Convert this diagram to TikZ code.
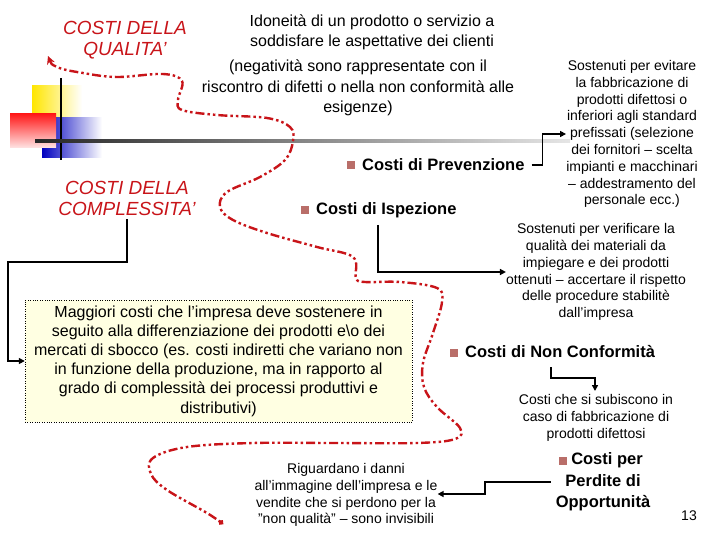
\documentclass[tikz,border=0pt]{standalone}
\usepackage{fontspec}
\setmainfont{Liberation Sans}
\usetikzlibrary{arrows.meta,shadings}
\definecolor{cred}{RGB}{200,20,25}
\definecolor{boxfill}{RGB}{255,255,226}
\definecolor{icon}{RGB}{185,110,105}
\tikzset{
 txt/.style={align=center,font=\fontsize{14}{16.8}\selectfont,inner sep=0pt},
 big/.style={align=center,font=\fontsize{16.5}{21.5}\selectfont\bfseries,inner sep=0pt},
 redlbl/.style={align=center,text=cred,font=\fontsize{19}{21}\selectfont\itshape,inner sep=0pt},
 conn/.style={line width=1.6pt,-{Triangle[length=6pt,width=6pt]}},
 ico/.style={fill=icon,minimum size=8pt,inner sep=0pt},
}
\begin{document}
\begin{tikzpicture}[x=1pt,y=-1pt]
\useasboundingbox (0,0) rectangle (720,540);
% decorations
\shade[left color=yellow!80!orange,right color=white] (32,86) rectangle (82,130);
\shade[left color=blue!75!black,right color=white] (42,118) rectangle (102,158);
\shade[top color=red!90,bottom color=red!10] (10,114) rectangle (56,148);
\draw[line width=1.5pt] (61,78) -- (61,160);
\shade[left color=black!85,right color=black!10] (35,140) rectangle (570,142.5);
% labels
\node[redlbl] (qual) at (125,40) {COSTI DELLA\\QUALITA'};
\node[redlbl] (compl) at (127,198) {COSTI DELLA\\COMPLESSITA'};
\node[txt,font=\fontsize{16}{20}\selectfont] (idon) at (372,32) {Idoneità di un prodotto o servizio a\\soddisfare le aspettative dei clienti};
\node[txt,font=\fontsize{16}{20.5}\selectfont] (neg) at (358,88) {(negatività sono rappresentate con il\\riscontro di difetti o nella non conformità alle\\esigenze)};
\node[big,anchor=west] (prev) at (362,165) {Costi di Prevenzione};
\node[ico] (iprev) at (351,165) {};
\node[big,anchor=west] (isp) at (316,210) {Costi di Ispezione};
\node[ico] (iisp) at (305,210) {};
\node[txt] (tprev) at (632,134) {Sostenuti per evitare\\la fabbricazione di\\prodotti difettosi o\\inferiori agli standard\\prefissati (selezione\\dei fornitori -- scelta\\impianti e macchinari\\-- addestramento del\\personale ecc.)};
\node[txt] (tisp) at (596,272) {Sostenuti per verificare la\\qualità dei materiali da\\impiegare e dei prodotti\\ottenuti -- accertare il rispetto\\delle procedure stabilitè\\dall'impresa};
\node[draw,dotted,fill=boxfill,minimum width=387pt,minimum height=122pt,txt,font=\fontsize{16}{19.2}\selectfont] (box) at (218.5,361) {Maggiori costi che l'impresa deve sostenere in\\seguito alla differenziazione dei prodotti e\textbackslash o dei\\mercati di sbocco (es. costi indiretti che variano non\\in funzione della produzione, ma in rapporto al\\grado di complessità dei processi produttivi e\\distributivi)};
\node[big,anchor=west] (nc) at (465,352) {Costi di Non Conformità};
\node[ico] (inc) at (454,353) {};
\node[txt] (tnc) at (596,418) {Costi che si subiscono in\\caso di fabbricazione di\\prodotti difettosi};
\node[big] (perd) at (603,482) {\hspace*{8pt}Costi per\\Perdite di\\Opportunità};
\node[ico] (iperd) at (563,461) {};
\node[txt] (tperd) at (346,495) {Riguardano i danni\\all'immagine dell'impresa e le\\vendite che si perdono per la\\"non qualità" -- sono invisibili};
\node[txt,font=\fontsize{14}{16}\selectfont] (num) at (689,516) {13};
% connectors
\draw[conn] (prev.east)++(7,0) -- ++(11,0) |- (tprev.west|-0,134);
\draw[conn] (378,225) |- (tisp.west|-0,272);
\draw[conn] (compl.south)++(0,4) |- (8,262) |- (box.west);
\draw[conn] (551,367) |- (595,378) -- (595,391);
\draw[conn] (perd.west|-0,482)++(-5,0) -- (485,482) |- (tperd.east|-0,494);
% red path
\draw[cred,line width=2.4pt,dash pattern=on 9pt off 3pt on 2.5pt off 3pt on 2.5pt off 3pt,{Stealth[length=8pt,width=8pt]}-{Circle[length=5pt]}]
 plot[smooth,tension=0.6] coordinates {(48,56) (57,67) (83,73) (117,77) (163,74) (182,81) (178,100) (182,110) (217,115) (267,118) (290,127) (293,141) (285,160) (260,177) (227,192) (220,207) (233,220) (267,233) (317,247) (353,257) (356,278) (365,282) (400,282) (437,288) (442,302) (433,333) (423,363) (424,387) (437,407) (460,428) (455,439) (417,443) (333,443) (253,443) (187,447) (153,458) (151,474) (167,490) (207,513) (223,524)};
\end{tikzpicture}
\end{document}
